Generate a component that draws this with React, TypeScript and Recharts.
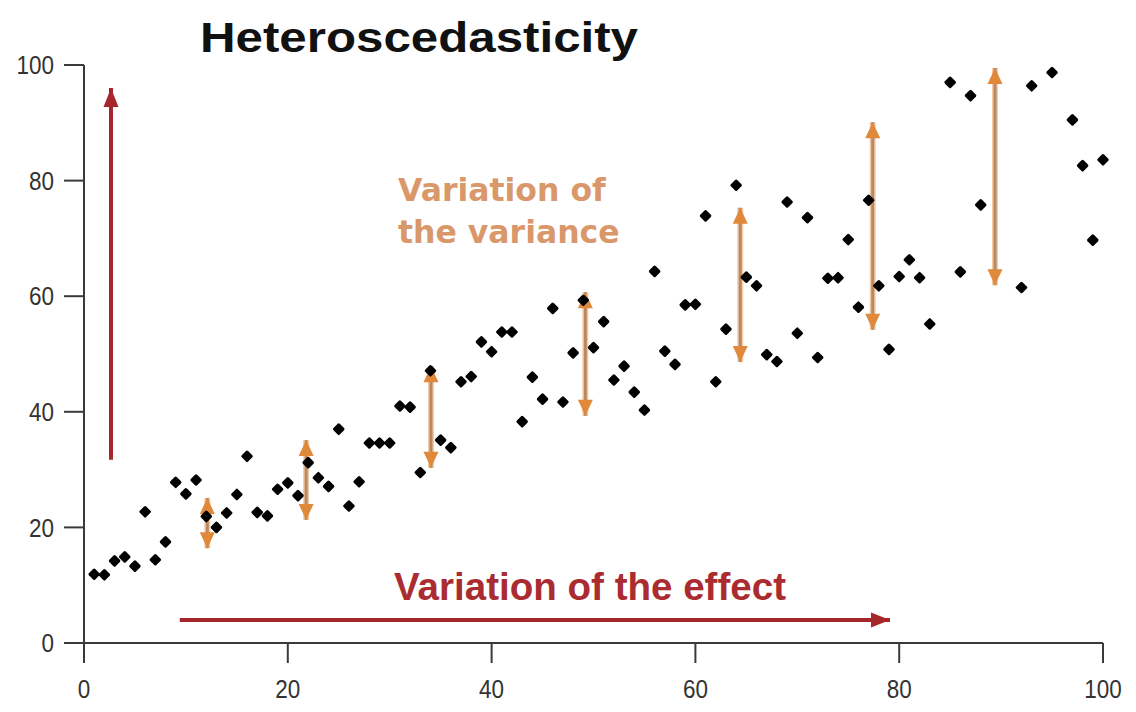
import React from 'react'
import { ScatterChart, Scatter, XAxis, YAxis, ReferenceLine } from 'recharts'

// observations (x = sample index, y = response)
const pointXs = [
  1, 2, 3, 4, 5, 6, 7, 8, 9, 10, 11, 12, 13, 14, 15, 16, 17, 18, 19, 20,
  21, 22, 23, 24, 25, 26, 27, 28, 29, 30, 31, 32, 33, 34, 35, 36, 37, 38, 39, 40,
  41, 42, 43, 44, 45, 46, 47, 48, 49, 50, 51, 52, 53, 54, 55, 56, 57, 58, 59, 60,
  61, 62, 63, 64, 65, 66, 67, 68, 69, 70, 71, 72, 73, 74, 75, 76, 77, 78, 79, 80,
  81, 82, 83, 85, 86, 87, 88, 92, 93, 95, 97, 98, 99, 100,
]
const pointYs = [
  11.9, 11.8, 14.2, 14.9, 13.3, 22.7, 14.4, 17.5, 27.8, 25.8, 28.2, 21.9, 20.0, 22.5, 25.7, 32.3, 22.6, 22.0, 26.6, 27.7,
  25.5, 31.2, 28.6, 27.1, 37.0, 23.7, 27.9, 34.6, 34.6, 34.6, 41.0, 40.8, 29.5, 47.1, 35.1, 33.8, 45.2, 46.1, 52.1, 50.4,
  53.8, 53.8, 38.3, 46.0, 42.2, 57.9, 41.7, 50.2, 59.3, 51.1, 55.6, 45.5, 47.9, 43.4, 40.3, 64.3, 50.5, 48.2, 58.5, 58.6,
  73.9, 45.2, 54.3, 79.2, 63.3, 61.8, 49.9, 48.7, 76.3, 53.6, 73.6, 49.4, 63.1, 63.2, 69.8, 58.1, 76.6, 61.8, 50.8, 63.4,
  66.3, 63.2, 55.2, 97.0, 64.2, 94.7, 75.8, 61.5, 96.4, 98.7, 90.5, 82.6, 69.7, 83.6,
]

const axisTicks = [0, 20, 40, 60, 80, 100]

// spread arrows (x position, lower end, upper end)
const spreadX = [12.1, 21.8, 34.05, 49.2, 64.4, 77.4, 89.4]
const spreadLow = [16.4, 21.3, 30.3, 39.3, 48.6, 54.2, 61.9]
const spreadHigh = [25.1, 35.1, 47.9, 60.7, 75.3, 90.1, 99.5]

// effect arrows
const effectVertical = { x: 2.65, from: 31.7, to: 96 }
const effectHorizontal = { y: 4, from: 9.4, to: 79.1 }

const RED = '#a5272c'
const ORANGE = '#e0893a'
const SHAFT = '#b98a62'

const points = pointXs.map((x, i) => ({ x, y: pointYs[i] }))

const head = (tx: number, ty: number, fx: number, fy: number, len: number, half: number, fill: string) => {
  const dx = tx - fx
  const dy = ty - fy
  const d = Math.sqrt(dx * dx + dy * dy) || 1
  const ux = dx / d
  const uy = dy / d
  const bx = tx - ux * len
  const by = ty - uy * len
  return (
    <polygon
      points={`${tx},${ty} ${bx - uy * half},${by + ux * half} ${bx + uy * half},${by - ux * half}`}
      fill={fill}
    />
  )
}

const DoubleArrow = (p: any) => {
  const { x1, y1, x2, y2 } = p
  return (
    <g>
      <line x1={x1} y1={y1} x2={x2} y2={y2} stroke={ORANGE} strokeOpacity={0.45} strokeWidth={6} />
      <line x1={x1} y1={y1} x2={x2} y2={y2} stroke={SHAFT} strokeWidth={3} />
      {head(x1, y1, x2, y2, 16, 7.5, ORANGE)}
      {head(x2, y2, x1, y1, 16, 7.5, ORANGE)}
    </g>
  )
}

const SingleArrow = (p: any) => {
  const { x1, y1, x2, y2 } = p
  return (
    <g>
      <line x1={x1} y1={y1} x2={x2} y2={y2} stroke={RED} strokeWidth={4} />
      {head(x2, y2, x1, y1, 19, 7.5, RED)}
    </g>
  )
}

const Dot = (p: any) => {
  const { cx, cy } = p
  return (
    <rect x={cx - 4.5} y={cy - 4.5} width={9} height={9} rx={1.5} fill="#000" transform={`rotate(45 ${cx} ${cy})`} />
  )
}

// condensed tick labels, like the narrow font of the original
const NarrowTick = (p: any) => {
  const { x, y, payload, textAnchor, vertical } = p
  const label = String(payload.value)
  return (
    <text
      x={x}
      y={y}
      dy={vertical ? '0.355em' : '0.71em'}
      textAnchor={textAnchor}
      fontFamily='"Liberation Sans", Arial, sans-serif'
      fontSize={26}
      fill="#333"
      textLength={label.length * 12.5}
      lengthAdjust="spacingAndGlyphs"
    >
      {label}
    </text>
  )
}

export default function App() {
  return (
    <div style={{ position: 'absolute', left: 0, top: 0, width: 1136, height: 712, background: '#fff' }}>
      <ScatterChart width={1136} height={712} margin={{ top: 65, right: 33, bottom: 0, left: 0 }}>
        <XAxis
          type="number"
          dataKey="x"
          domain={[0, 100]}
          ticks={axisTicks}
          height={69}
          tickSize={20}
          tickMargin={17}
          axisLine={{ stroke: '#3a3a3a', strokeWidth: 2 }}
          tickLine={{ stroke: '#3a3a3a', strokeWidth: 2 }}
          tick={<NarrowTick vertical={false} />}
        />
        <YAxis
          type="number"
          dataKey="y"
          domain={[0, 100]}
          ticks={axisTicks}
          width={84}
          tickSize={20}
          tickMargin={10}
          axisLine={{ stroke: '#3a3a3a', strokeWidth: 2 }}
          tickLine={{ stroke: '#3a3a3a', strokeWidth: 2 }}
          tick={<NarrowTick vertical />}
        />
        <ReferenceLine
          segment={[{ x: effectVertical.x, y: effectVertical.from }, { x: effectVertical.x, y: effectVertical.to }]}
          shape={SingleArrow}
        />
        <ReferenceLine
          segment={[{ x: effectHorizontal.from, y: effectHorizontal.y }, { x: effectHorizontal.to, y: effectHorizontal.y }]}
          shape={SingleArrow}
        />
        <Scatter data={points} shape={Dot} isAnimationActive={false} />
        {spreadX.map((x, i) => (
          <ReferenceLine
            key={`spread-${i}`}
            segment={[{ x, y: spreadLow[i] }, { x, y: spreadHigh[i] }]}
            shape={DoubleArrow}
          />
        ))}
      </ScatterChart>
      <svg width={1136} height={712} style={{ position: 'absolute', left: 0, top: 0, pointerEvents: 'none' }}>
        <text
          x={200}
          y={52}
          fontFamily='"Liberation Sans", Arial, sans-serif'
          fontWeight="bold"
          fontSize={42}
          fill="#111"
          textLength={438}
          lengthAdjust="spacingAndGlyphs"
        >
          Heteroscedasticity
        </text>
        <text x={398} y={201} fontFamily='"DejaVu Sans", Verdana, sans-serif' fontWeight="bold" fontSize={31.5} fill="#d9976a">
          Variation of
        </text>
        <text x={398} y={243} fontFamily='"DejaVu Sans", Verdana, sans-serif' fontWeight="bold" fontSize={31.5} fill="#d9976a">
          the variance
        </text>
        <text
          x={394}
          y={600}
          fontFamily='"Liberation Sans", Arial, sans-serif'
          fontWeight="bold"
          fontSize={39}
          fill="#ab2c30"
          textLength={392}
          lengthAdjust="spacingAndGlyphs"
        >
          Variation of the effect
        </text>
      </svg>
    </div>
  )
}
